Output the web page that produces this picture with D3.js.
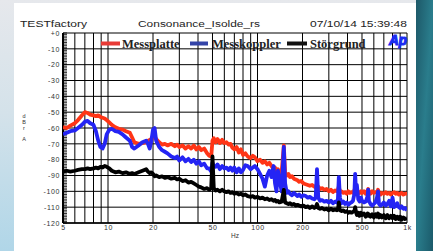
<!DOCTYPE html>
<html>
<head>
<meta charset="utf-8">
<script src="https://cdn.jsdelivr.net/npm/d3@7"></script>
<style>
  body { margin: 0; background: #fff; }
  svg { display: block; }
</style>
</head>
<body>
<svg id="chart"></svg>
<script>
// frequency points (Hz), shared by all three series
const freqs = [
  5, 5.3, 5.6, 6, 6.3, 6.7, 7, 7.3, 7.6, 8,
  8.3, 8.6, 8.9, 9.2, 9.5, 9.8, 10.2, 10.6, 11.2, 11.8,
  12.5, 13.2, 14, 14.5, 15, 16, 17, 18, 18.5, 19,
  19.5, 20, 20.5, 21, 22, 23, 24, 25, 26.5, 28,
  29, 30, 31.5, 33, 34.5, 36, 37.5, 39, 40.5, 42,
  44, 46, 47.5, 49, 50, 51, 52.5, 54, 56, 58,
  60, 62, 64, 66, 68, 70, 72.5, 75, 77.5, 80,
  83, 86, 90, 93, 96, 100, 104, 108, 112, 116,
  120, 124, 128, 131, 134, 137, 140, 145, 150, 153,
  157, 161, 165, 170, 175, 180, 185, 190, 196, 203,
  210, 217, 224, 232, 240, 245, 250, 255, 262, 270,
  280, 290, 300, 310, 320, 330, 340, 345, 350, 356,
  365, 375, 385, 395, 405, 415, 425, 435, 444, 450,
  456, 462, 472, 482, 492, 500, 515, 530, 545, 550,
  556, 570, 585, 600, 615, 630, 640, 650, 665, 680,
  700, 720, 740, 760, 780, 800, 820, 840, 860, 880,
  900, 920, 945, 970, 1000
];

const messplatte = [
  -59.5, -60, -58.5, -57, -55, -52, -50, -50.5, -51.5, -52,
  -52.5, -52, -53, -53.5, -54, -55, -56.5, -58, -59.5, -60.5,
  -61, -62, -63, -66, -69, -70, -69.5, -69, -68, -67.5,
  -67, -66, -65.5, -67, -69, -70.5, -70, -71, -70, -71.5,
  -70.5, -72, -71, -73, -71.5, -73, -71, -73.5, -72, -74,
  -73, -76, -77.5, -78, -68, -66.5, -69, -67, -69.5, -67.5,
  -69.5, -69, -70.5, -70, -72.5, -73.5, -72, -75.5, -73.5, -77,
  -76, -78, -79, -77.5, -78.5, -81, -80, -82, -81, -83,
  -82, -84, -86, -85, -88, -86, -89, -88, -71, -88,
  -90, -89, -91, -90.5, -92, -92.5, -93, -94, -93.5, -95,
  -95.5, -96, -96.5, -96, -97, -97.5, -97, -97, -98.5, -98,
  -99, -98.5, -100, -99, -100.5, -99.5, -100, -99, -97, -100.5,
  -100, -101, -100.5, -101.5, -100, -101, -100.5, -101, -99.5, -98,
  -99.5, -100, -100.5, -101, -100, -101, -100, -101.5, -99.5, -98.5,
  -100.5, -101.5, -100, -101, -100.5, -101, -99, -101, -102, -101,
  -101.5, -100.5, -101.5, -101, -102, -101, -100.5, -101.5, -101, -102,
  -101.5, -101, -102, -101.5, -101.5
];

const messkoppler = [
  -64, -63, -62, -61.5, -60, -58, -56, -55.5, -57, -58,
  -62, -68, -72, -73, -70, -64, -61, -60.5, -62, -62.5,
  -64, -66, -68, -72, -73, -71, -69, -68, -70, -73,
  -68, -61, -60, -68, -72, -74, -75, -76, -78, -79,
  -78, -80.5, -78.5, -81, -79.5, -81.5, -80, -82.5, -81, -83.5,
  -82.5, -85.5, -85.5, -87.5, -82, -84, -84.5, -83, -86, -84,
  -85.5, -85, -86.5, -85, -87, -85, -88, -85.5, -88, -86.5,
  -83.5, -84, -86, -85, -84, -86, -89, -92, -97, -90,
  -87, -91, -84, -95, -100, -87, -92, -100, -72, -95,
  -101, -100, -101.5, -102.5, -101, -102, -103, -102, -103.5, -102.5,
  -103, -104, -103.5, -104.5, -105, -104, -86, -104, -106, -105.5,
  -106.5, -106, -107, -106, -107.5, -106.5, -107, -105, -91, -104,
  -107.5, -106.5, -108, -107, -108.5, -107.5, -107, -106, -102, -89,
  -100, -96, -105, -106.5, -104, -106, -107, -106.5, -103, -99,
  -106, -108, -109, -108, -107, -104, -100, -108, -109, -108.5,
  -107, -109, -108, -106, -109.5, -104, -110, -109, -107.5, -110,
  -110.5, -109.5, -111, -110.5, -112
];

const stoergrund = [
  -87.5, -87, -87.5, -87, -86.5, -86, -86, -85.5, -86, -85.5,
  -85, -85.5, -84.5, -85, -84, -84.5, -85.5, -87, -88, -87.5,
  -88.5, -88, -89, -88.5, -89, -88, -87, -86, -87.5, -88.5,
  -88, -89, -90.5, -90, -91, -90.5, -91.5, -91, -92, -91.5,
  -92.5, -92, -93.5, -93, -94.5, -94, -95, -96, -97, -97.5,
  -98.5, -98, -99, -98, -78, -98, -99.5, -99, -100, -99,
  -100, -100.5, -100, -101, -100.5, -101.5, -101, -102, -101.5, -102.5,
  -102, -103, -103.5, -103, -104, -103.5, -104.5, -104, -105, -104.5,
  -105.5, -105, -106, -105.5, -106.5, -106, -107, -106.5, -99, -107,
  -107.5, -108, -107.5, -108.5, -108, -109, -108.5, -109, -109.5, -109,
  -110, -109.5, -110.5, -109.5, -110.5, -110, -108, -110.5, -111, -110.5,
  -111.5, -111, -112, -111, -112, -111.5, -112, -111.5, -107, -112,
  -112.5, -112, -113, -112.5, -113.5, -113, -113.5, -113, -112.5, -110,
  -113, -115, -113.5, -115.5, -113.5, -115, -114, -116, -114, -115.5,
  -114.5, -116, -114.5, -116.5, -114.5, -116, -114, -116.5, -115, -116.5,
  -115, -117, -115, -117, -115.5, -117, -115.5, -117.5, -116, -117.5,
  -116, -118, -116.5, -117.5, -117
];

const seriesNames = ["Messplatte", "Messkoppler", "Störgrund"];
const seriesColors = ["#ff3516", "#2424f4", "#000000"];
const legendColors = ["#e83a36", "#3444a8", "#111111"];

const xGrid = [6, 7, 8, 9, 10, 20, 30, 40, 50, 60, 70, 80, 90, 100,
               200, 300, 400, 500, 600, 700, 800, 900];
const xTickVals = [5, 10, 20, 50, 100, 200, 500, 1000];
const xTickLabels = ["5", "10", "20", "50", "100", "200", "500", "1k"];
const yTickVals = d3.range(0, -121, -10);

const W = 433, H = 251;
const plot = { left: 63, right: 407, top: 33, bottom: 223 };

const svg = d3.select("#chart").attr("width", W).attr("height", H);
const defs = svg.append("defs");

// page background
const gl = defs.append("linearGradient").attr("id", "leftbg")
  .attr("x1", 0).attr("y1", 0).attr("x2", 0).attr("y2", 1);
gl.append("stop").attr("offset", "0%").attr("stop-color", "#e6e8ec");
gl.append("stop").attr("offset", "45%").attr("stop-color", "#d4e2ea");
gl.append("stop").attr("offset", "100%").attr("stop-color", "#b0d6e8");

const gr = defs.append("linearGradient").attr("id", "rightbg")
  .attr("x1", 0).attr("y1", 0).attr("x2", 1).attr("y2", 1);
gr.append("stop").attr("offset", "0%").attr("stop-color", "#1d5868");
gr.append("stop").attr("offset", "50%").attr("stop-color", "#2a7d8c");
gr.append("stop").attr("offset", "100%").attr("stop-color", "#1b5a6a");

svg.append("rect").attr("width", W).attr("height", H).attr("fill", "url(#leftbg)");
svg.append("rect").attr("x", 416).attr("width", W - 416).attr("height", H).attr("fill", "url(#rightbg)");
svg.append("rect").attr("x", 14).attr("y", 3).attr("width", 402).attr("height", H - 3).attr("fill", "#fff");

defs.append("clipPath").attr("id", "clip").append("rect")
  .attr("x", plot.left).attr("y", plot.top)
  .attr("width", plot.right - plot.left).attr("height", plot.bottom - plot.top);

const x = d3.scaleLog().domain([5, 1000]).range([plot.left, plot.right]);
const y = d3.scaleLinear().domain([-120, 0]).range([plot.bottom, plot.top]);

// header
const header = svg.append("g").style("font-family", "'Liberation Sans', Arial, sans-serif")
  .style("font-size", "8.5px").attr("fill", "#222");
header.append("text").attr("x", 20).attr("y", 27).attr("textLength", 67)
  .attr("lengthAdjust", "spacingAndGlyphs").text("TESTfactory");
header.append("text").attr("x", 138).attr("y", 27).attr("textLength", 122)
  .attr("lengthAdjust", "spacingAndGlyphs").text("Consonance_Isolde_rs");
header.append("text").attr("x", 310).attr("y", 27).attr("textLength", 97)
  .attr("lengthAdjust", "spacingAndGlyphs").text("07/10/14 15:39:48");

// grid
const grid = svg.append("g").attr("stroke", "#000").attr("stroke-width", 1);
grid.selectAll(".vg").data(xGrid).join("line")
  .attr("x1", d => x(d)).attr("x2", d => x(d))
  .attr("y1", plot.top).attr("y2", plot.bottom);
grid.selectAll(".hg").data(yTickVals).join("line")
  .attr("x1", plot.left).attr("x2", plot.right)
  .attr("y1", d => y(d)).attr("y2", d => y(d));
grid.append("line").attr("x1", plot.right).attr("x2", plot.right)
  .attr("y1", plot.top).attr("y2", plot.bottom);
grid.append("line").attr("x1", plot.left).attr("x2", plot.right)
  .attr("y1", plot.bottom).attr("y2", plot.bottom).attr("stroke-width", 1.5);

// left axis comb: one small tick per dB
svg.append("g").attr("stroke", "#000").attr("stroke-width", 0.8)
  .selectAll("line").data(d3.range(0, -121, -1)).join("line")
  .attr("x1", plot.left).attr("x2", plot.left + 4)
  .attr("y1", d => y(d)).attr("y2", d => y(d));
svg.append("line").attr("x1", plot.left).attr("x2", plot.left)
  .attr("y1", plot.top).attr("y2", plot.bottom)
  .attr("stroke", "#000").attr("stroke-width", 2);

// y tick labels
const yAxis = d3.axisLeft(y).tickValues(yTickVals).tickSize(0).tickPadding(3)
  .tickFormat(d => d === 0 ? "+0" : String(d));
svg.append("g").attr("transform", `translate(${plot.left},0)`).call(yAxis)
  .call(g => g.select(".domain").remove())
  .selectAll("text").attr("fill", "#333")
  .style("font-family", "'Liberation Sans', Arial, sans-serif")
  .style("font-size", "7px").style("letter-spacing", "0.6px");

// x tick labels
const xAxis = d3.axisBottom(x).tickValues(xTickVals).tickSize(0).tickPadding(2)
  .tickFormat((d, i) => xTickLabels[i]);
svg.append("g").attr("transform", `translate(0,${plot.bottom})`).call(xAxis)
  .call(g => g.select(".domain").remove())
  .selectAll("text").attr("fill", "#333")
  .style("font-family", "'Liberation Sans', Arial, sans-serif")
  .style("font-size", "7px").style("letter-spacing", "0.6px");

svg.append("text").attr("x", 235).attr("y", 238).attr("text-anchor", "middle")
  .attr("fill", "#333").style("font-family", "'Liberation Sans', Arial, sans-serif")
  .style("font-size", "6.5px").text("Hz");

// y unit, stacked letters
const unit = svg.append("g").attr("fill", "#333")
  .style("font-family", "'Liberation Sans', Arial, sans-serif").style("font-size", "5.5px")
  .attr("text-anchor", "middle");
[["d", 118], ["B", 124], ["r", 130], ["A", 141]].forEach(([t, yy]) => {
  unit.append("text").attr("x", 24).attr("y", yy).text(t);
});

// curves
const allSeries = [messplatte, messkoppler, stoergrund];
const line = d3.line().x((d, i) => x(freqs[i])).y(d => y(d));
svg.append("g").attr("clip-path", "url(#clip)")
  .selectAll("path").data(allSeries).join("path")
  .attr("d", line)
  .attr("fill", "none")
  .attr("stroke", (d, i) => seriesColors[i])
  .attr("stroke-width", 3.8)
  .attr("stroke-linejoin", "round");

// legend
const legendX = [[101, 120, 122], [190, 208, 212], [287, 307, 310]];
const legend = svg.append("g");
seriesNames.forEach((name, i) => {
  const [x1, x2, tx] = legendX[i];
  legend.append("line").attr("x1", x1).attr("x2", x2).attr("y1", 43.5).attr("y2", 43.5)
    .attr("stroke", legendColors[i]).attr("stroke-width", 4);
  legend.append("text").attr("x", tx).attr("y", 48)
    .style("font-family", "'Liberation Serif', 'Times New Roman', serif")
    .style("font-weight", "bold").style("font-size", "12.5px")
    .attr("fill", "#222").text(name);
});

// logo
svg.append("text").attr("x", 389).attr("y", 45)
  .style("font-family", "'Liberation Sans', Arial, sans-serif")
  .style("font-weight", "bold").style("font-style", "italic").style("font-size", "14px")
  .attr("fill", "#1a2cf2").attr("stroke", "#1a2cf2").attr("stroke-width", 1.2)
  .attr("textLength", 18).attr("lengthAdjust", "spacingAndGlyphs")
  .text("Ap");
</script>
</body>
</html>
